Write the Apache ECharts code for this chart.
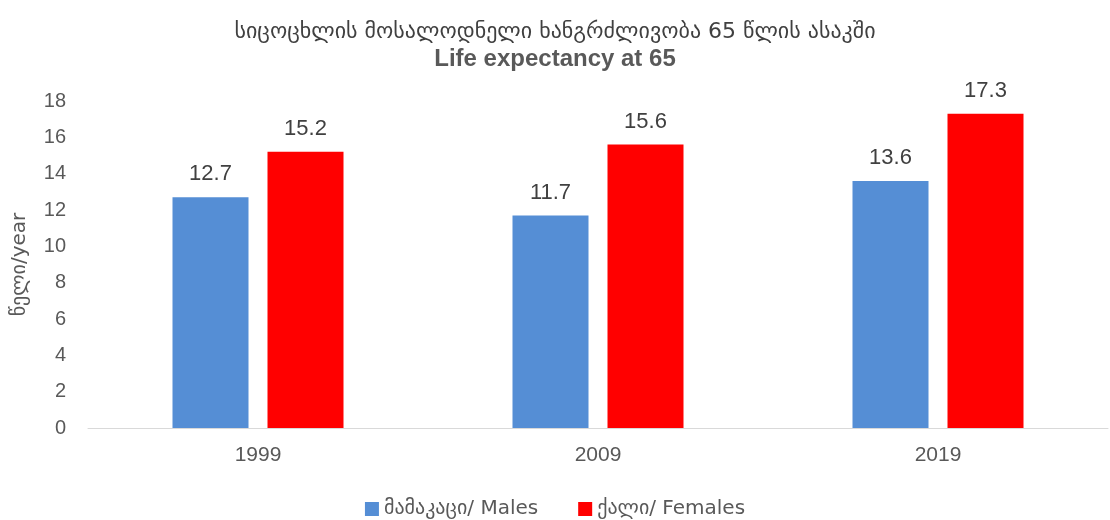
<!DOCTYPE html>
<html>
<head>
<meta charset="utf-8">
<script src="https://cdn.jsdelivr.net/npm/echarts@6/dist/echarts.min.js"></script>
<style>
  body { margin: 0; background: #fff; }
  #chart { width: 1110px; height: 520px; }
</style>
</head>
<body>
<div id="chart"></div>
<script>
  const years = ['1999', '2009', '2019'];
  const males = [12.7, 11.7, 13.6];
  const females = [15.2, 15.6, 17.3];
  const yTicks = [0, 2, 4, 6, 8, 10, 12, 14, 16, 18];

  const labelStyle = {
    show: true,
    position: 'top',
    distance: 12,
    color: '#404040',
    fontSize: 22,
    fontFamily: 'Liberation Sans, Arial, sans-serif'
  };

  let myChart = echarts.init(document.getElementById('chart'));
  myChart.setOption({
    title: {
      text: 'სიცოცხლის მოსალოდნელი ხანგრძლივობა 65 წლის ასაკში',
      subtext: 'Life expectancy at 65',
      left: 'center',
      top: 16,
      itemGap: 4,
      textStyle: { fontSize: 22, fontWeight: 'normal', color: '#404040', fontFamily: 'DejaVu Sans, sans-serif' },
      subtextStyle: { fontSize: 24, fontWeight: 'bold', color: '#595959', fontFamily: 'Liberation Sans, Arial, sans-serif' }
    },
    legend: {
      top: 494,
      left: 'center',
      itemWidth: 14,
      itemHeight: 14,
      itemGap: 40,
      icon: 'rect',
      textStyle: { fontSize: 20, color: '#595959', fontFamily: 'DejaVu Sans, sans-serif' },
      data: ['მამაკაცი/ Males', 'ქალი/ Females']
    },
    grid: { left: 88, right: 2, top: 101, bottom: 92 },
    xAxis: {
      type: 'category',
      data: years,
      axisLine: { lineStyle: { color: '#d9d9d9' } },
      axisTick: { show: false },
      axisLabel: { fontSize: 21, color: '#595959', margin: 17, fontFamily: 'Liberation Sans, Arial, sans-serif' }
    },
    yAxis: {
      type: 'value',
      min: yTicks[0],
      max: yTicks[yTicks.length - 1],
      interval: 2,
      name: 'წელი/year',
      nameLocation: 'middle',
      nameGap: 58,
      nameTextStyle: { fontSize: 20, color: '#595959', fontFamily: 'DejaVu Sans, sans-serif' },
      axisLine: { show: false },
      axisTick: { show: false },
      splitLine: { show: false },
      axisLabel: { fontSize: 20, color: '#595959', margin: 22, fontFamily: 'Liberation Sans, Arial, sans-serif' }
    },
    series: [
      {
        name: 'მამაკაცი/ Males',
        type: 'bar',
        data: males,
        barWidth: 76,
        barGap: '25%',
        itemStyle: { color: '#558ed5' },
        label: labelStyle
      },
      {
        name: 'ქალი/ Females',
        type: 'bar',
        data: females,
        barWidth: 76,
        itemStyle: { color: '#ff0000' },
        label: labelStyle
      }
    ]
  });
</script>
</body>
</html>
